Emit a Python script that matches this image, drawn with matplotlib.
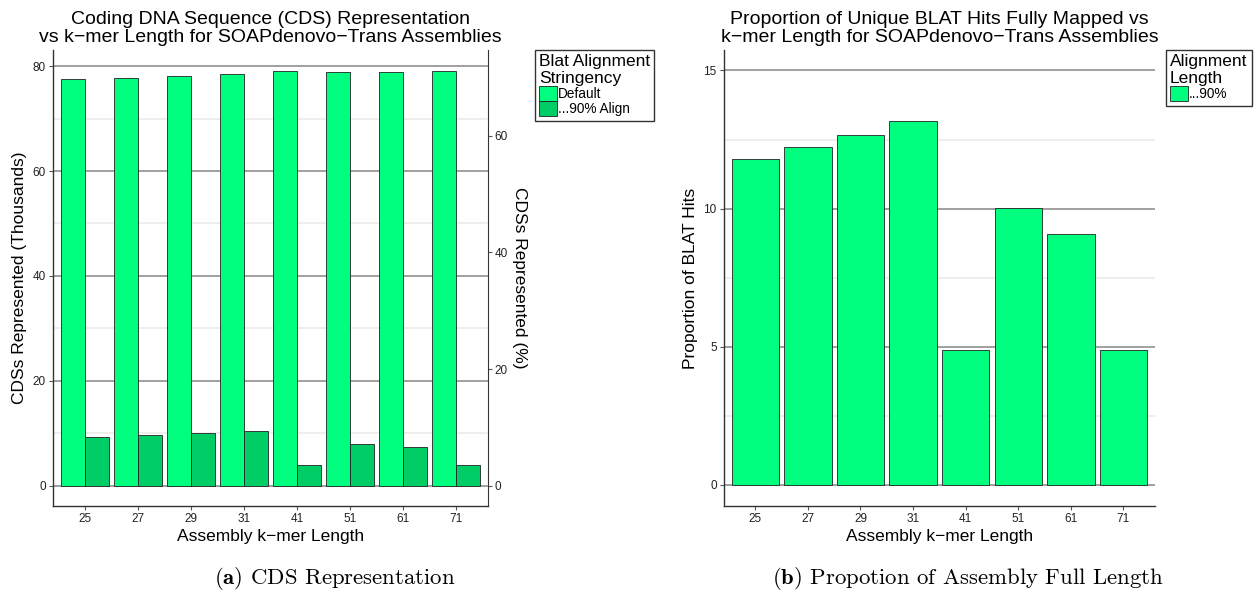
import numpy as np
import matplotlib
matplotlib.use("Agg")
import matplotlib.pyplot as plt
from matplotlib.patches import Patch

plt.rcParams['font.family'] = ['Liberation Sans', 'DejaVu Sans']
plt.rcParams['mathtext.fontset'] = 'cm'

# data
kmers = ["25", "27", "29", "31", "41", "51", "61", "71"]
cds_default = [77.5, 77.7, 78.2, 78.4, 79.1, 78.8, 78.9, 79.1]   # thousands
cds_90 = [9.2, 9.6, 10.0, 10.4, 3.95, 7.95, 7.3, 3.95]          # thousands
prop_full = [11.78, 12.22, 12.68, 13.16, 4.87, 10.01, 9.09, 4.87]
total_cds = 111.25  # thousands -> 100 %

green = "#00FF7F"
green_dark = "#00CD66"
major_col = "#a0a0a0"
minor_col = "#ebebeb"

fig = plt.figure(figsize=(12.59, 5.92), dpi=100)
ax1 = fig.add_axes([53/1259, 1-506/592, (487.8-53)/1259, 456/592])
ax2 = fig.add_axes([723.7/1259, 1-506/592, (1155-723.7)/1259, 456/592])

x = np.arange(1, len(kmers)+1)


def style(ax, major, minor):
    ax.set_xlim(0.4, 8.6)
    ax.set_yticks(major)
    ax.set_yticks(minor, minor=True)
    ax.yaxis.grid(True, which='major', color=major_col, lw=1.4, zorder=0)
    ax.yaxis.grid(True, which='minor', color=minor_col, lw=1.2, zorder=0)
    ax.set_axisbelow(True)
    ax.spines['top'].set_visible(False)
    ax.spines['right'].set_visible(False)
    for s in ['left', 'bottom']:
        ax.spines[s].set_color('#333333')
        ax.spines[s].set_linewidth(1.0)
    ax.tick_params(axis='both', which='major', length=3, width=0.8, color='#555555',
                   labelsize=8.5, labelcolor='#222222', pad=2)
    ax.tick_params(axis='y', which='minor', length=0)
    ax.set_xticks(x)
    ax.set_xticklabels(kmers)


# left panel
ax1.bar(x - 0.225, cds_default, width=0.45, color=green, edgecolor='#222222', lw=0.6, zorder=2)
ax1.bar(x + 0.225, cds_90, width=0.45, color=green_dark, edgecolor='#222222', lw=0.6, zorder=2)
ax1.set_ylim(-3.87, 83.07)
style(ax1, [0, 20, 40, 60, 80], [10, 30, 50, 70])
ax1.set_title("Coding DNA Sequence (CDS) Representation\nvs k\u2212mer Length for SOAPdenovo\u2212Trans Assemblies",
              fontsize=14, pad=6, linespacing=1.05)
ax1.set_xlabel("Assembly k\u2212mer Length", fontsize=12.5, labelpad=3)
ax1.set_ylabel("CDSs Represented (Thousands)", fontsize=12.5, labelpad=4)

sec = ax1.secondary_yaxis('right', functions=(lambda v: v / total_cds * 100, lambda v: v * total_cds / 100))
sec.set_yticks([0, 20, 40, 60])
sec.spines['right'].set_color('#333333')
sec.tick_params(length=3, width=0.8, color='#555555', labelsize=8.5, labelcolor='#222222', pad=2)
sec.set_ylabel("CDSs Represented (%)", fontsize=12.5, rotation=-90, labelpad=14)

leg1 = fig.legend(handles=[Patch(facecolor=green, edgecolor='#222222', lw=0.6, label='Default'),
                           Patch(facecolor=green_dark, edgecolor='#222222', lw=0.6, label='...90% Align')],
                  title="Blat Alignment\nStringency", loc='upper left',
                  bbox_to_anchor=(535/1259, 1-50/592), fontsize=9.8, title_fontsize=12.5,
                  handlelength=1.3, handleheight=1.3, handletextpad=0.1, labelspacing=0.0,
                  borderpad=0.3, borderaxespad=0, fancybox=False, edgecolor='#333333',
                  framealpha=1, alignment='left')
leg1.get_frame().set_linewidth(1.0)

# right panel
ax2.bar(x, prop_full, width=0.9, color=green, edgecolor='#222222', lw=0.6, zorder=2)
ax2.set_ylim(-0.76, 15.74)
style(ax2, [0, 5, 10, 15], [2.5, 7.5, 12.5])
ax2.set_title("Proportion of Unique BLAT Hits Fully Mapped vs\nk\u2212mer Length for SOAPdenovo\u2212Trans Assemblies",
              fontsize=14, pad=6, linespacing=1.05)
ax2.set_xlabel("Assembly k\u2212mer Length", fontsize=12.5, labelpad=3)
ax2.set_ylabel("Proportion of BLAT Hits", fontsize=12.5, labelpad=4)

leg2 = fig.legend(handles=[Patch(facecolor=green, edgecolor='#222222', lw=0.6, label='...90%')],
                  title="Alignment\nLength", loc='upper left',
                  bbox_to_anchor=(1166/1259, 1-50/592), fontsize=9.8, title_fontsize=12.5,
                  handlelength=1.3, handleheight=1.3, handletextpad=0.1, labelspacing=0.0,
                  borderpad=0.3, borderaxespad=0, fancybox=False, edgecolor='#333333',
                  framealpha=1, alignment='left')
leg2.get_frame().set_linewidth(1.0)

# captions
fig.text(335/1259, 1-579/592, r"$\mathbf{(a)}$ CDS Representation", family='cmr10',
         fontsize=16.4, ha='center', va='center')
fig.text(968/1259, 1-579/592, r"$\mathbf{(b)}$ Propotion of Assembly Full Length", family='cmr10',
         fontsize=16.4, ha='center', va='center')

fig.savefig("out.png", dpi=100, facecolor='white')
